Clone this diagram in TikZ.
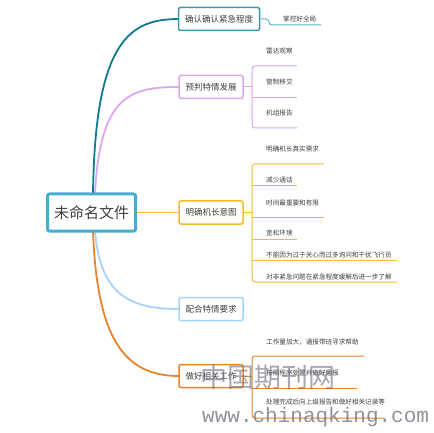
\documentclass[tikz,border=0pt]{standalone}
\usepackage{fontspec}
\newfontfamily\cjk{Noto Sans CJK SC}
\newfontfamily\cjklight{Noto Sans CJK SC Light}
\newfontfamily\wmono{Liberation Mono}
\definecolor{rootc}{HTML}{44ADD4}
\definecolor{tealc}{HTML}{127A8C}
\definecolor{tealbox}{HTML}{3B98AC}
\definecolor{tealchild}{HTML}{62B4C4}
\definecolor{purc}{HTML}{D9A8EF}
\definecolor{yelc}{HTML}{F6BA2E}
\definecolor{bluec}{HTML}{A5D3FB}
\definecolor{orac}{HTML}{EA842B}
\definecolor{txt}{HTML}{404040}
\definecolor{wm}{HTML}{6E6E7C}
\tikzset{
  rootbox/.style={draw=rootc, line width=3pt, rounded corners=2pt, fill=white, minimum width=88pt, minimum height=37pt, font=\cjk\fontsize{15}{15}\selectfont, text=txt, inner sep=0pt},
  subbox/.style={line width=1.5pt, rounded corners=2pt, fill=white, minimum width=64pt, minimum height=23pt, font=\cjk\fontsize{8.5}{8.5}\selectfont, text=txt, inner sep=0pt},
  leaf/.style={anchor=west, font=\cjk\fontsize{6.6}{6.6}\selectfont, text=txt, inner sep=0pt},
  conn/.style={line width=1.8pt},
  sub/.style={line width=1pt, rounded corners=3pt}
}
\begin{document}
\begin{tikzpicture}[x=1pt,y=-1pt]
\useasboundingbox (0,0) rectangle (434,433);
\fill[white] (0,0) rectangle (434,433);
% connectors from root
\coordinate (r1) at (93,194);
\coordinate (r2) at (95,194);
\coordinate (r4) at (95,231);
\coordinate (r5) at (93,231);
\draw[conn, tealc] (r1) .. controls (95,40) and (130,19) .. (179,19);
\draw[conn, purc] (r2) .. controls (100,95) and (130,87) .. (179,87);
\draw[conn, bluec] (r4) .. controls (100,295) and (130,309) .. (179,309);
\draw[conn, orac] (r5) .. controls (97,340) and (125,376) .. (179,376);
\node[rootbox] (root) at (91.5,212.5) {未命名文件};
\node[subbox, draw=tealbox, minimum width=81pt] (b1) at (219,19) {确认确认紧急程度};
\node[subbox, draw=purc] (b2) at (211,87) {预判特情发展};
\node[subbox, draw=yelc] (b3) at (211,212.5) {明确机长意图};
\node[subbox, draw=bluec] (b4) at (211,309) {配合特情要求};
\node[subbox, draw=orac] (b5) at (211,376) {做好相关工作};
\draw[conn, yelc] (root.east) -- (b3.west);
% branch 1
\draw[sub, tealchild] (b1.east) -- (269,19) -- (269,25) -- (321,25);
\node[leaf] (c11) at (283,19) {掌控好全局};
% branch 2
\coordinate (j2) at (252,87);
\draw[sub, purc] (b2.east) -- (j2);
\draw[sub, purc] (297,66) -- (252,66) -- (252,128) -- (297,128);
\draw[sub, purc] (252,98) -- (297,98);
\node[leaf] (c21) at (266,51) {雷达观察};
\node[leaf] (c22) at (266,82) {管制移交};
\node[leaf] (c23) at (266,113) {机组报告};
% branch 3
\coordinate (j3) at (252,212.5);
\draw[sub, yelc] (b3.east) -- (j3);
\draw[sub, yelc] (324,164) -- (252,164) -- (252,282) -- (397,282);
\draw[sub, yelc] (252,186) -- (297,186);
\draw[sub, yelc] (252,217) -- (324,217);
\draw[sub, yelc] (252,239) -- (297,239);
\draw[sub, yelc] (252,260) -- (397,260);
\node[leaf] (c31) at (266,149) {明确机长真实需求};
\node[leaf] (c32) at (266,180.5) {减少通话};
\node[leaf] (c33) at (266,202.5) {时间最重要和有限};
\node[leaf] (c34) at (266,233) {宽松环境};
\node[leaf] (c35) at (266,255) {不能因为过于关心而过多询问和干扰飞行员};
\node[leaf] (c36) at (266,277) {对非紧急问题在紧急程度缓解后进一步了解};
% branch 5
\coordinate (j5) at (252,376);
\draw[sub, orac] (b5.east) -- (j5);
\draw[sub, orac] (364,356) -- (252,356) -- (252,418) -- (385,418);
\draw[sub, orac] (252,388) -- (357,388);
\node[leaf] (c51) at (266,342) {工作量加大，通报带班寻求帮助};
\node[leaf] (c52) at (266,373) {按照程序处置并做好通报};
\node[leaf] (c53) at (266,402) {处理完成后向上级报告和做好相关记录等};
% watermark
\node[font=\cjk\fontsize{27}{27}\selectfont, text=wm, opacity=0.6, inner sep=0pt] (wm1) at (268,377) {中国期刊网};
\node[font=\wmono\fontsize{21}{21}\selectfont, text=wm, opacity=0.75, inner sep=0pt, anchor=west] (wm2) at (202,417) {www.chinaqking.com};
\end{tikzpicture}
\end{document}
